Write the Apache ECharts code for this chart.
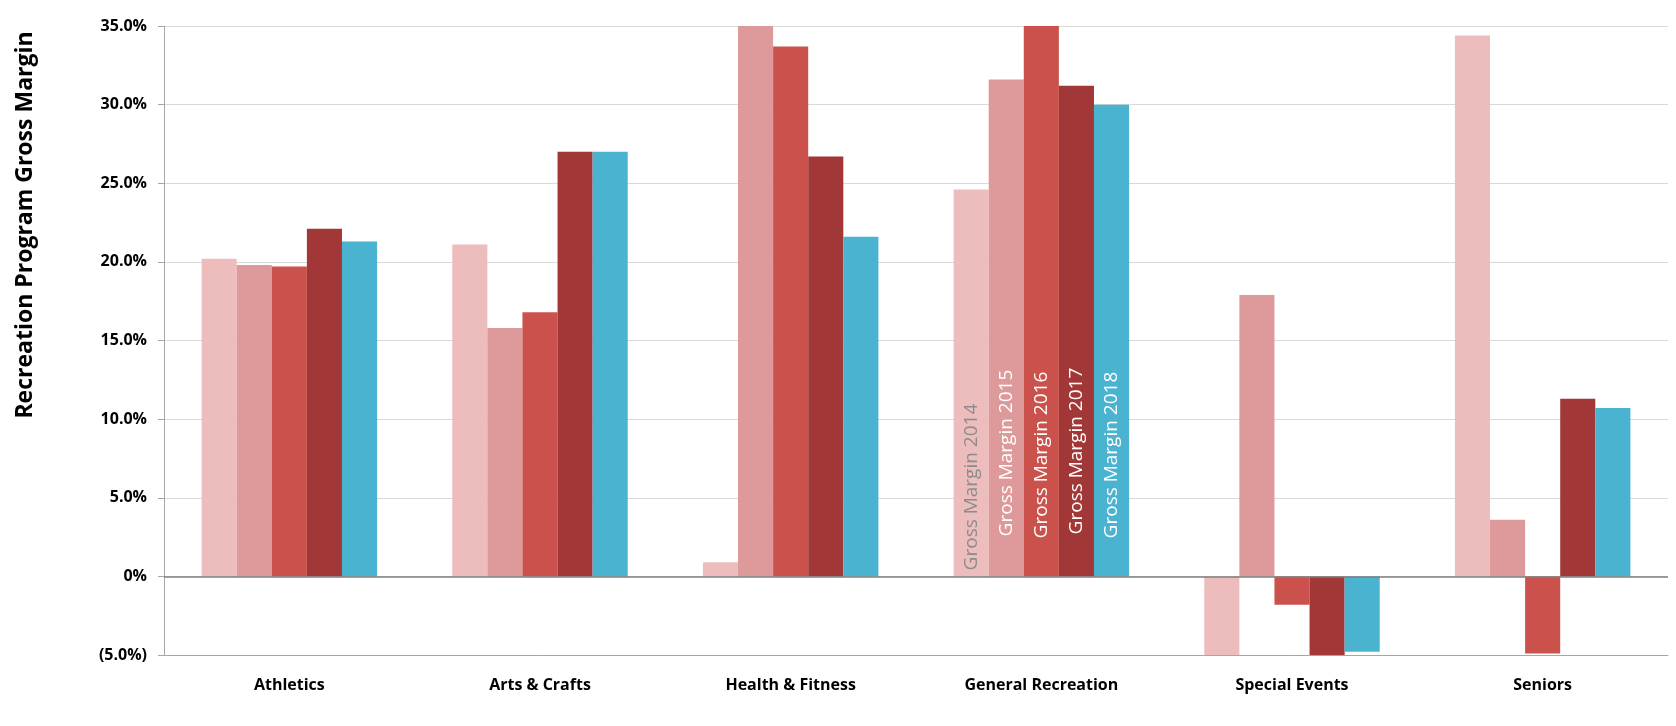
<!DOCTYPE html>
<html>
<head>
<meta charset="utf-8">
<title>Recreation Program Gross Margin</title>
<script src="https://cdn.jsdelivr.net/npm/echarts@6/dist/echarts.min.js"></script>
<style>
    html, body { margin: 0; padding: 0; background: #fff; }
    #main { width: 1676px; height: 726px; }
</style>
</head>
<body>
<div id="main"></div>
<script>
// categories and values (percent)
var categories = ['Athletics', 'Arts & Crafts', 'Health & Fitness', 'General Recreation', 'Special Events', 'Seniors'];
var seriesNames = ['Gross Margin 2014', 'Gross Margin 2015', 'Gross Margin 2016', 'Gross Margin 2017', 'Gross Margin 2018'];
var gm2014 = [20.2, 21.1, 0.9, 24.6, -5.0, 34.4];
var gm2015 = [19.8, 15.8, 35.0, 31.6, 17.9, 3.6];
var gm2016 = [19.7, 16.8, 33.7, 35.0, -1.8, -4.9];
var gm2017 = [22.1, 27.0, 26.7, 31.2, -5.0, 11.3];
var gm2018 = [21.3, 27.0, 21.6, 30.0, -4.8, 10.7];
var labelCategory = 'General Recreation'; // series names are written inside these bars

var colors = ['#EDBDBD', '#DE9A9A', '#CB524C', '#A23737', '#4AB3CF'];
var labelColors = ['#8C8C8C', '#fff', '#fff', '#fff', '#fff'];
var labelDist = [6, 40, 38, 42, 38];

var allValues = [gm2014, gm2015, gm2016, gm2017, gm2018];

function pctLabel(v) {
    if (v === 0) return '0%';
    if (v < 0) return '(' + Math.abs(v).toFixed(1) + '%)';
    return v.toFixed(1) + '%';
}

var series = allValues.map(function (vals, i) {
    return {
        name: seriesNames[i],
        type: 'bar',
        barGap: '0%',
        barCategoryGap: '30%',
        itemStyle: { color: colors[i] },
        data: vals.map(function (v, j) {
            if (categories[j] !== labelCategory) return v;
            return {
                value: v,
                label: {
                    show: true,
                    position: 'insideBottom',
                    rotate: 90,
                    align: 'left',
                    verticalAlign: 'middle',
                    distance: labelDist[i],
                    formatter: '{a}',
                    color: labelColors[i],
                    fontFamily: 'Open Sans',
                    fontSize: 19
                }
            };
        }),
        markLine: i === 0 ? {
            silent: true,
            symbol: 'none',
            label: { show: false },
            lineStyle: { color: '#7F7F7F', type: 'solid', width: 1.5 },
            data: [{ yAxis: 0 }]
        } : undefined
    };
});

var myChart = echarts.init(document.getElementById('main'));
var option = {
    animation: false,
    grid: {
        left: 164,
        right: 8,
        top: 26,
        bottom: 71
    },
    xAxis: {
        type: 'category',
        data: categories,
        axisLine: {
            onZero: false,
            lineStyle: { color: '#A6A6A6' }
        },
        axisTick: { show: false },
        axisLabel: {
            margin: 22,
            color: '#000',
            fontFamily: 'Open Sans',
            fontWeight: 'bold',
            fontSize: 16
        }
    },
    yAxis: {
        type: 'value',
        min: -5,
        max: 35,
        interval: 5,
        axisLine: {
            show: true,
            lineStyle: { color: '#A6A6A6' }
        },
        axisTick: {
            show: true,
            length: 6,
            lineStyle: { color: '#A6A6A6' }
        },
        axisLabel: {
            formatter: pctLabel,
            margin: 17,
            color: '#000',
            fontFamily: 'Open Sans',
            fontWeight: 'bold',
            fontSize: 16
        },
        splitLine: {
            lineStyle: { color: '#D9D9D9' }
        }
    },
    graphic: [{
        type: 'text',
        x: 25,
        y: 225,
        rotation: Math.PI / 2,
        style: {
            text: 'Recreation Program Gross Margin',
            align: 'center',
            verticalAlign: 'middle',
            fill: '#000',
            font: 'bold 23px "Open Sans"'
        }
    }],
    series: series
};
myChart.setOption(option);

window.onresize = function () {
    myChart.resize();
};
</script>
</body>
</html>
